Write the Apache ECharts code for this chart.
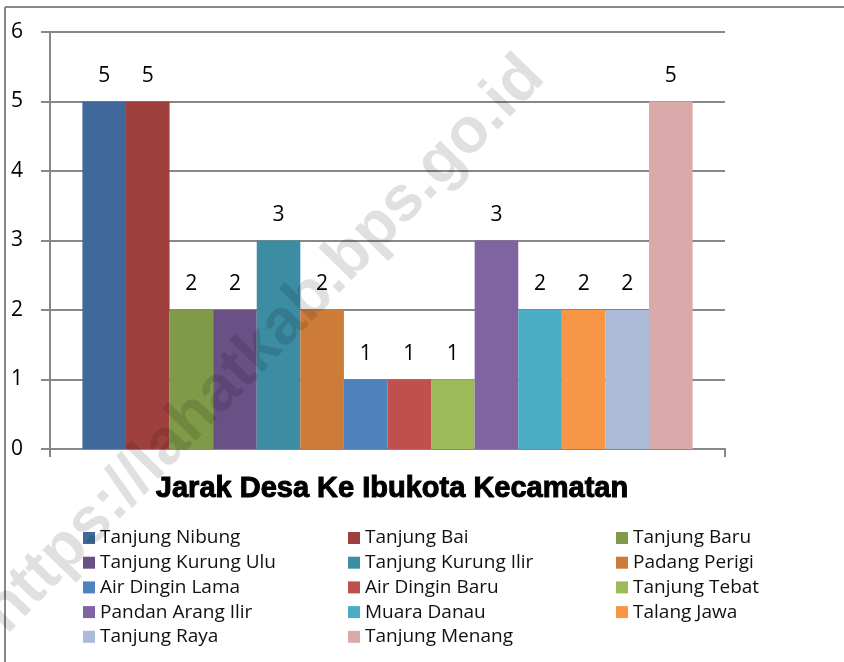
<!DOCTYPE html>
<html>
<head>
<meta charset="utf-8">
<script src="https://cdn.jsdelivr.net/npm/echarts@6/dist/echarts.min.js"></script>
<style>
  html, body { margin: 0; padding: 0; background: #fff; }
  #chart { width: 844px; height: 662px; }
</style>
</head>
<body>
<div id="chart"></div>
<script>
const villages = [
  'Tanjung Nibung', 'Tanjung Bai', 'Tanjung Baru', 'Tanjung Kurung Ulu',
  'Tanjung Kurung Ilir', 'Padang Perigi', 'Air Dingin Lama', 'Air Dingin Baru',
  'Tanjung Tebat', 'Pandan Arang Ilir', 'Muara Danau', 'Talang Jawa',
  'Tanjung Raya', 'Tanjung Menang'
]
const distances = [5, 5, 2, 2, 3, 2, 1, 1, 1, 3, 2, 2, 2, 5]
const colors = [
  '#41689a', '#9e413e', '#7f9a48', '#695185', '#3c8da3', '#cc7b38', '#4f81bd',
  '#c0504d', '#9bbb59', '#8064a2', '#4bacc6', '#f79646', '#aabad7', '#d9aaa9'
]
const yTicks = [0, 1, 2, 3, 4, 5, 6]
const title = 'Jarak Desa Ke Ibukota Kecamatan'
const watermark = 'https://lahatkab.bps.go.id'

const axisGray = '#878787'
const bodyFont = '"Open Sans", "Noto Sans", sans-serif'

const chart = echarts.init(document.getElementById('chart'))

// legend is laid out in three columns, filled row by row
const legendCols = [[], [], []]
villages.forEach((name, i) => legendCols[i % 3].push(name))
const legendLeft = [83, 348, 616]

const legends = legendCols.map((names, c) => ({
  data: names,
  orient: 'vertical',
  left: legendLeft[c],
  top: 528,
  padding: 0,
  itemGap: 4.7,
  itemWidth: 12,
  itemHeight: 12,
  icon: 'rect',
  selectedMode: false,
  textStyle: {
    fontFamily: bodyFont,
    fontSize: 19,
    lineHeight: 20,
    color: '#111',
  },
}))

chart.setOption({
  animation: false,
  color: colors,
  grid: { left: 50, right: 119, top: 32, bottom: 213 },
  title: {
    text: title,
    left: 387,
    textAlign: 'center',
    top: 469,
    textStyle: {
      fontFamily: '"Liberation Sans", Arial, sans-serif',
      fontWeight: 'bold',
      fontSize: 29,
      color: '#000',
      textBorderColor: '#000',
      textBorderWidth: 1,
    },
  },
  legend: legends,
  xAxis: {
    type: 'category',
    data: [''],
    axisLine: { lineStyle: { color: axisGray, width: 2 } },
    axisTick: { show: true, length: 8, lineStyle: { color: axisGray, width: 2 } },
    axisLabel: { show: false },
  },
  yAxis: {
    type: 'value',
    min: yTicks[0],
    max: yTicks[yTicks.length - 1],
    interval: 1,
    axisLine: { show: true, lineStyle: { color: axisGray, width: 2 } },
    axisTick: { show: true, length: 9, lineStyle: { color: axisGray, width: 2 } },
    axisLabel: {
      margin: 27,
      fontFamily: bodyFont,
      fontSize: 21,
      color: '#000',
    },
    splitLine: { lineStyle: { color: axisGray, width: 2 } },
  },
  series: villages.map((name, i) => ({
    name,
    type: 'bar',
    data: [distances[i]],
    barGap: '0%',
    barCategoryGap: '9.6%',
    label: {
      show: true,
      position: 'top',
      distance: 15,
      fontFamily: bodyFont,
      fontSize: 21,
      color: '#000',
    },
  })),
  graphic: [
    {
      type: 'line',
      shape: { x1: 5, y1: 7, x2: 844, y2: 7 },
      style: { stroke: axisGray, lineWidth: 2 },
    },
    {
      type: 'line',
      shape: { x1: 5, y1: 7, x2: 5, y2: 662 },
      style: { stroke: axisGray, lineWidth: 2 },
    },
    {
      type: 'text',
      x: 264,
      y: 345,
      rotation: 0.8,
      z: 100,
      silent: true,
      style: {
        text: watermark,
        align: 'center',
        verticalAlign: 'middle',
        font: 'bold 64px "Liberation Sans", Arial, sans-serif',
        fill: 'rgba(0,0,0,0.12)',
      },
    },
  ],
})

window.addEventListener('resize', () => chart.resize())
</script>
</body>
</html>
